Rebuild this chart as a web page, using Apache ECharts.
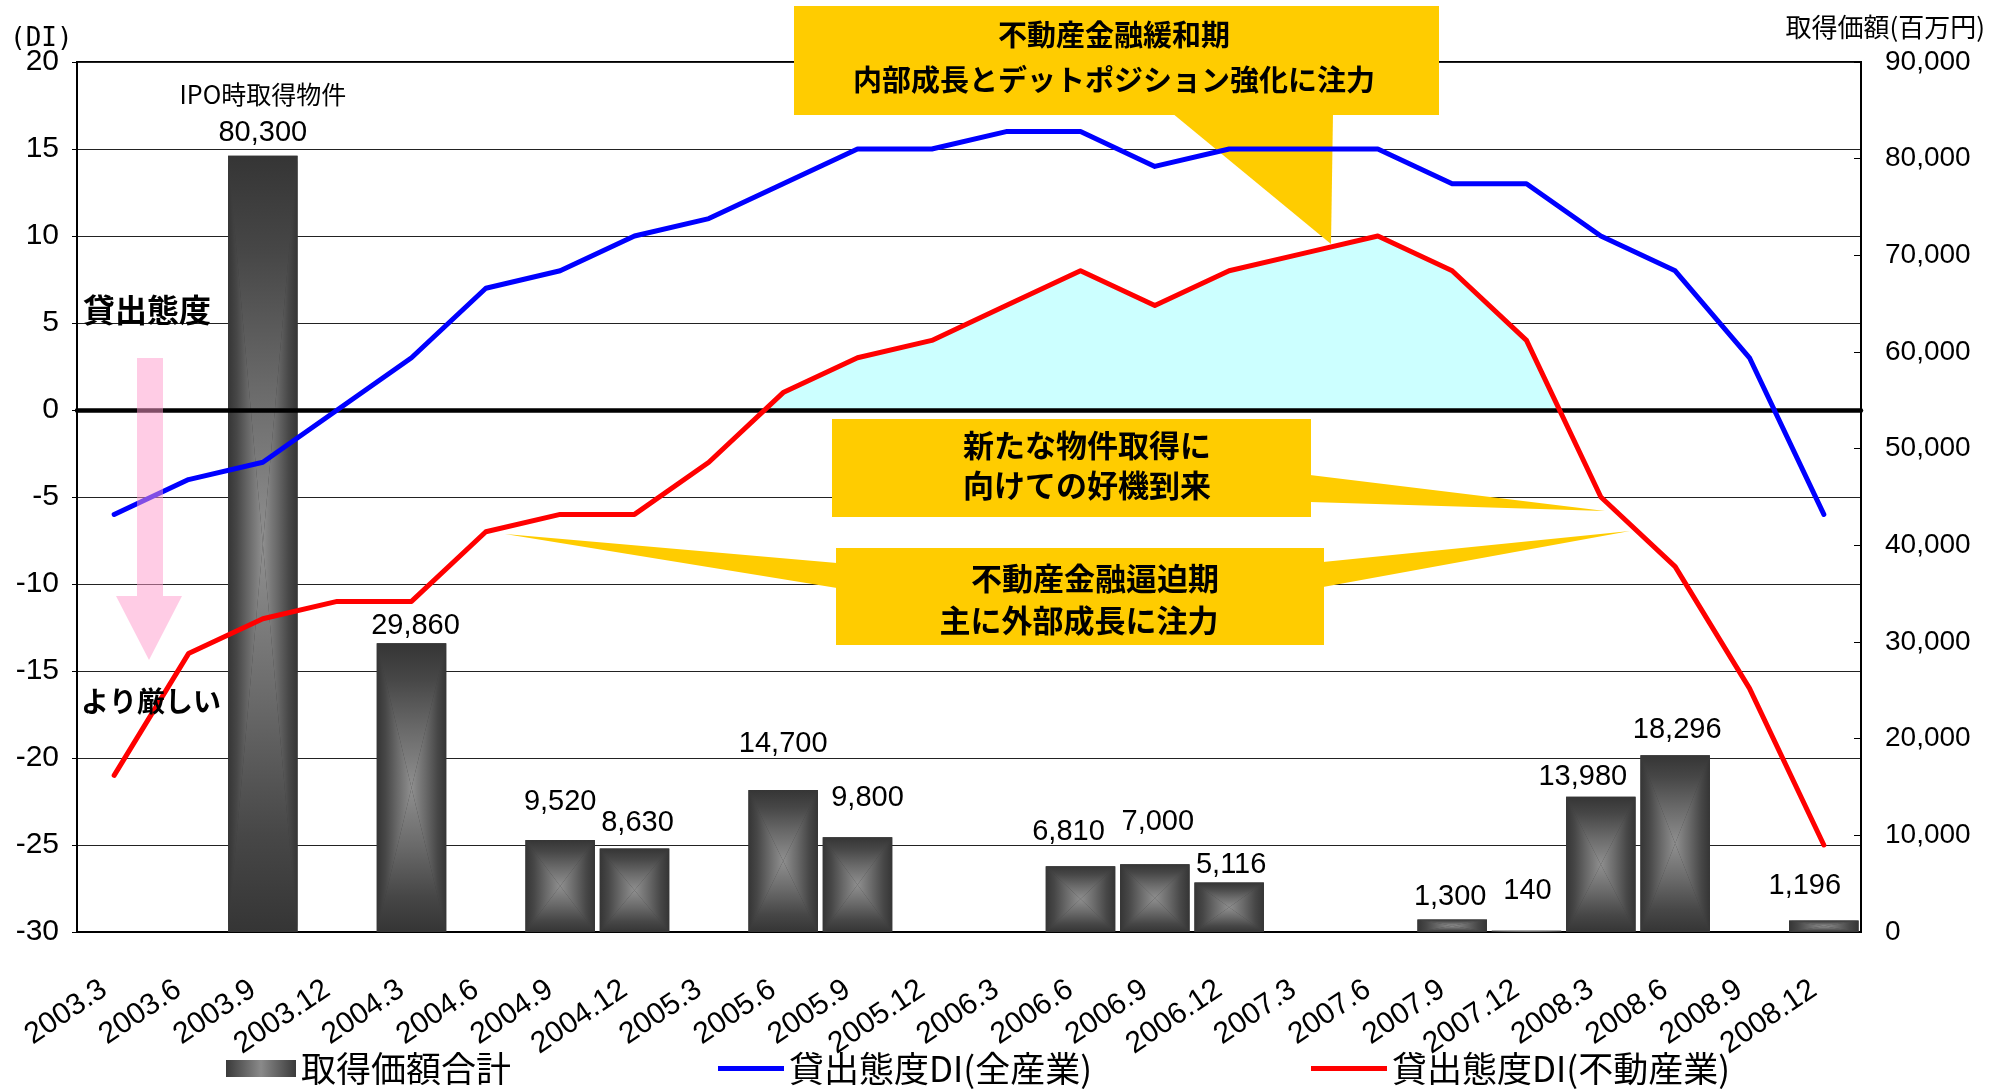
<!DOCTYPE html>
<html>
<head>
<meta charset="utf-8">
<script src="https://cdn.jsdelivr.net/npm/echarts@6/dist/echarts.min.js"></script>
<style>
  html, body { margin: 0; padding: 0; background: #ffffff; }
  #chart { width: 2001px; height: 1092px; }
</style>
</head>
<body>
<div id="chart"></div>
<script>
// Quarter-end survey dates
const quarters = ['2003.3','2003.6','2003.9','2003.12','2004.3','2004.6','2004.9','2004.12',
  '2005.3','2005.6','2005.9','2005.12','2006.3','2006.6','2006.9','2006.12',
  '2007.3','2007.6','2007.9','2007.12','2008.3','2008.6','2008.9','2008.12'];

// Acquisition price total per quarter (million yen); null = no acquisition
const acquisitionTotal = [null, null, 80300, null, 29860, null, 9520, 8630,
  null, 14700, 9800, null, null, 6810, 7000, 5116,
  null, null, 1300, 140, 13980, 18296, null, 1196];

// Lending attitude DI, all industries
const diAllIndustries = [-6, -4, -3, 0, 3, 7, 8, 10, 11, 13, 15, 15,
  16, 16, 14, 15, 15, 15, 13, 13, 10, 8, 3, -6];

// Lending attitude DI, real estate
const diRealEstate = [-21, -14, -12, -11, -11, -7, -6, -6, -3, 1, 3, 4,
  6, 8, 6, 8, 9, 10, 8, 4, -5, -9, -16, -25];

// Axis ranges
const diRange = { min: -30, max: 20, interval: 5 };
const amountRange = { min: 0, max: 90000, interval: 10000 };

// Extra caption above a bar
const barNotes = { '2003.9': 'IPO時取得物件' };

// Hand placement of the value labels: [horizontal shift, gap above bar]
const labelPlacement = {
  '2003.9': [0, 13], '2004.3': [4, 8], '2004.9': [0, 28], '2004.12': [3, 16],
  '2005.6': [0, 36], '2005.9': [10, 30], '2006.6': [-12, 25], '2006.9': [3, 33],
  '2006.12': [2, 8], '2007.9': [-2, 13], '2007.12': [1, 30], '2008.3': [-18, 10],
  '2008.6': [2, 16], '2008.12': [-19, 25]
};

const NUM_FONT = '"Liberation Sans", Arial, sans-serif';
const JP_FONT = '"Noto Sans CJK JP", "Noto Sans", sans-serif';
const YELLOW = '#FFCC00';

// Dark edges fading to a light centre
const barStops = [
  { offset: 0, color: '#353535' },
  { offset: 0.25, color: '#474747' },
  { offset: 0.6, color: '#6a6a6a' },
  { offset: 1, color: '#8f8f8f' }
];

function fmt(v) { return Number(v).toLocaleString('en-US'); }

function grad(xa, ya, xb, yb) {
  return { type: 'linear', x: xa, y: ya, x2: xb, y2: yb, global: true, colorStops: barStops };
}

// Bar with a rectangular "from centre" shading, built from four triangles
function renderBar(params, api) {
  const v = api.value(1);
  if (v == null || isNaN(v)) return;
  const i = api.value(0);
  const top = api.coord([i, v]);
  const base = api.coord([i, 0]);
  const w = api.size([1, 0])[0] * 0.935;
  const cx = top[0], x0 = cx - w / 2, x1 = cx + w / 2;
  const y0 = top[1], y1 = base[1], cy = (y0 + y1) / 2;
  const cat = quarters[i];
  const place = labelPlacement[cat] || [0, 12];
  const children = [
    { type: 'rect', shape: { x: x0, y: y0, width: w, height: y1 - y0 }, style: { fill: '#3a3a3a' } },
    { type: 'polygon', shape: { points: [[x0, y0], [cx, cy], [x0, y1]] }, style: { fill: grad(x0, 0, cx, 0) } },
    { type: 'polygon', shape: { points: [[x1, y0], [cx, cy], [x1, y1]] }, style: { fill: grad(x1, 0, cx, 0) } },
    { type: 'polygon', shape: { points: [[x0, y0], [x1, y0], [cx, cy]] }, style: { fill: grad(0, y0, 0, cy) } },
    { type: 'polygon', shape: { points: [[x0, y1], [x1, y1], [cx, cy]] }, style: { fill: grad(0, y1, 0, cy) } },
    {
      type: 'text',
      style: {
        text: fmt(v), x: cx + place[0], y: y0 - place[1] + 5,
        align: 'center', verticalAlign: 'bottom', textAlign: 'center', textVerticalAlign: 'bottom',
        fontSize: 29, fontFamily: NUM_FONT, fill: '#000'
      }
    }
  ];
  if (barNotes[cat]) {
    children.push({
      type: 'text',
      style: {
        text: barNotes[cat], x: cx, y: y0 - place[1] - 36,
        align: 'center', verticalAlign: 'bottom', textAlign: 'center', textVerticalAlign: 'bottom',
        fontSize: 25, fontFamily: JP_FONT, fill: '#000'
      }
    });
  }
  return { type: 'group', children: children };
}

// Shaded region between the real estate DI line and zero, where the DI is positive
function renderPositiveArea(params, api) {
  const n = diRealEstate.length;
  const pts = [];
  diRealEstate.forEach((v, i) => {
    if (i > 0) {
      const pv = diRealEstate[i - 1];
      if (pv * v < 0) {
        const t = pv / (pv - v);
        const a = api.coord([i - 1, 0]);
        const b = api.coord([i, 0]);
        pts.push([a[0] + (b[0] - a[0]) * t, a[1]]);
      }
    }
    pts.push(api.coord([i, Math.max(v, 0)]));
  });
  pts.push(api.coord([n - 1, 0]));
  pts.push(api.coord([0, 0]));
  return { type: 'polygon', shape: { points: pts }, style: { fill: '#CCFFFF' } };
}

const chart = echarts.init(document.getElementById('chart'), null, { renderer: 'canvas' });

const legendText = { fontSize: 35, color: '#000', fontFamily: JP_FONT };
const legendBarColor = {
  type: 'linear', x: 0, y: 0, x2: 1, y2: 0,
  colorStops: [
    { offset: 0, color: '#3a3a3a' }, { offset: 0.5, color: '#8a8a8a' }, { offset: 1, color: '#3a3a3a' }
  ]
};

function calloutBox(x, y, w, h) {
  return { type: 'rect', z: 3, shape: { x: x, y: y, width: w, height: h }, style: { fill: YELLOW } };
}
function wedge(points) {
  return { type: 'polygon', z: 3, shape: { points: points }, style: { fill: YELLOW } };
}
function boldText(text, x, y, size) {
  return {
    type: 'text', z: 7,
    style: {
      text: text, x: x, y: y, align: 'center', verticalAlign: 'middle',
      textAlign: 'center', textVerticalAlign: 'middle',
      fontSize: size, fontWeight: 'bold', fontFamily: JP_FONT, fill: '#000'
    }
  };
}

const option = {
  animation: false,
  backgroundColor: '#ffffff',
  grid: {
    left: 77, right: 140, top: 62, bottom: 160,
    show: true, borderColor: '#000', borderWidth: 2, backgroundColor: 'transparent'
  },
  xAxis: [
    {
      type: 'category', data: quarters, boundaryGap: true,
      axisLine: { onZero: false, lineStyle: { color: '#000', width: 2 } },
      axisTick: { show: false },
      axisLabel: { interval: 0, rotate: 34, margin: 48, padding: [0, 12, 0, 0],
        fontSize: 30, color: '#000', fontFamily: NUM_FONT },
      splitLine: { show: false }
    },
    {
      // thick zero line of the DI scale
      type: 'category', data: quarters, position: 'top', z: 3,
      axisLine: { onZero: true, onZeroAxisIndex: 0, lineStyle: { color: '#000', width: 4.5 } },
      axisTick: { show: false }, axisLabel: { show: false }, splitLine: { show: false }
    }
  ],
  yAxis: [
    {
      type: 'value', position: 'left',
      min: diRange.min, max: diRange.max, interval: diRange.interval,
      axisLine: { show: true, onZero: false, lineStyle: { color: '#000', width: 2 } },
      axisTick: { show: true, length: 5, lineStyle: { color: '#000' } },
      axisLabel: { fontSize: 30, color: '#000', margin: 18, fontFamily: NUM_FONT },
      splitLine: { show: true, lineStyle: { color: '#222', width: 1 } }
    },
    {
      type: 'value', position: 'right',
      min: amountRange.min, max: amountRange.max, interval: amountRange.interval,
      axisLine: { show: true, onZero: false, lineStyle: { color: '#000', width: 2 } },
      axisTick: { show: true, inside: true, length: 7, lineStyle: { color: '#000' } },
      axisLabel: { fontSize: 28, color: '#000', margin: 24, fontFamily: NUM_FONT, formatter: fmt },
      splitLine: { show: false }
    }
  ],
  legend: [
    {
      data: [{ name: '取得価額合計', icon: 'rect', itemStyle: { color: legendBarColor } }],
      left: 226, top: 1051, itemWidth: 70, itemHeight: 17, textStyle: legendText, padding: 0
    },
    {
      data: [{ name: '貸出態度DI(全産業)', icon: 'rect', itemStyle: { color: '#0000FF' } }],
      left: 718, top: 1051, itemWidth: 66, itemHeight: 5, textStyle: legendText, padding: 0
    },
    {
      data: [{ name: '貸出態度DI(不動産業)', icon: 'rect', itemStyle: { color: '#FF0000' } }],
      left: 1311, top: 1051, itemWidth: 76, itemHeight: 5, textStyle: legendText, padding: 0
    }
  ],
  series: [
    {
      name: '取得価額合計', type: 'custom', xAxisIndex: 0, yAxisIndex: 1, z: 2, clip: false,
      renderItem: renderBar, itemStyle: { color: '#555555' },
      encode: { x: 0, y: 1 },
      data: acquisitionTotal.map((v, i) => [i, v == null ? NaN : v])
    },
    {
      name: 'positive-area', type: 'custom', xAxisIndex: 0, yAxisIndex: 0, z: 1, silent: true,
      renderItem: renderPositiveArea, encode: { x: 0, y: 1 },
      data: [[0, 0]]
    },
    {
      name: '貸出態度DI(全産業)', type: 'line', xAxisIndex: 0, yAxisIndex: 0, z: 5,
      data: diAllIndustries, symbol: 'none', itemStyle: { color: '#0000FF' },
      lineStyle: { color: '#0000FF', width: 5, cap: 'round', join: 'round' }
    },
    {
      name: '貸出態度DI(不動産業)', type: 'line', xAxisIndex: 0, yAxisIndex: 0, z: 5,
      data: diRealEstate, symbol: 'none', itemStyle: { color: '#FF0000' },
      lineStyle: { color: '#FF0000', width: 5, cap: 'round', join: 'round' }
    }
  ],
  graphic: { elements: [
    // axis captions
    { type: 'text', z: 7, style: { text: '(DI)', x: 10, y: 39, verticalAlign: 'middle', textVerticalAlign: 'middle',
      fontSize: 26, fontFamily: '"DejaVu Sans Mono", monospace', fill: '#000' } },
    { type: 'text', z: 7, style: { text: '取得価額(百万円)', x: 1985, y: 27, align: 'right', verticalAlign: 'middle',
      textAlign: 'right', textVerticalAlign: 'middle', fontSize: 26, fontFamily: JP_FONT, fill: '#000' } },

    // easing period call-out
    calloutBox(794, 6, 645, 109),
    wedge([[1172, 113], [1333, 113], [1331, 244]]),
    boldText('不動産金融緩和期', 1114, 35, 29),
    boldText('内部成長とデットポジション強化に注力', 1114, 80, 29),

    // opportunity call-out
    calloutBox(832, 419, 479, 98),
    wedge([[1310, 475], [1605, 511], [1310, 502]]),
    boldText('新たな物件取得に', 1087, 445, 31),
    boldText('向けての好機到来', 1087, 485, 31),

    // tightening period call-out
    calloutBox(836, 548, 488, 97),
    wedge([[1323, 562], [1630, 531], [1323, 587]]),
    wedge([[837, 563], [505, 534], [837, 588]]),
    boldText('不動産金融逼迫期', 1095, 578, 31),
    boldText('主に外部成長に注力', 1079, 620, 31),

    // direction of the DI scale
    { type: 'polygon', z: 6,
      shape: { points: [[137, 358], [163, 358], [163, 596], [182, 596], [149, 660], [116, 596], [137, 596]] },
      style: { fill: '#FF99CC', opacity: 0.5 } },
    boldText('貸出態度', 147, 310, 32),
    boldText('より厳しい', 151, 701, 28)
  ] }
};

chart.setOption(option);
</script>
</body>
</html>
